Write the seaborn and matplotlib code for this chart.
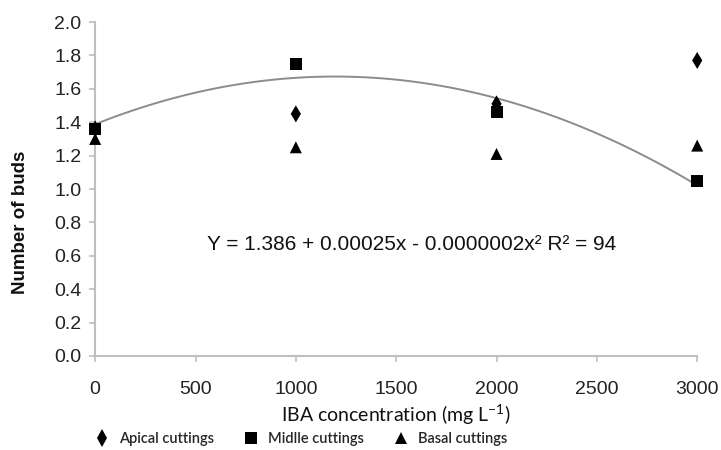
import numpy as np
import pandas as pd
import seaborn as sns
import matplotlib.pyplot as plt

concentration = [0, 1000, 2000, 3000]
apical = [1.36, 1.45, 1.51, 1.77]
midlle = [1.36, 1.75, 1.46, 1.05]
basal = [1.30, 1.25, 1.21, 1.26]
groups = ['Apical cuttings', 'Midlle cuttings', 'Basal cuttings']
equation = 'Y = 1.386 + 0.00025x - 0.0000002x² R² = 94'

df = pd.DataFrame({
    'conc': concentration * 3,
    'buds': apical + midlle + basal,
    'type': [g for g in groups for _ in concentration],
})

sns.set_theme(style='white')
plt.rcParams['font.family'] = ['Liberation Sans', 'DejaVu Sans']

fig = plt.figure(figsize=(7.21, 4.5), dpi=100)
ax = fig.add_axes([0.132, 0.209, 0.835, 0.742])

# trend line (2nd order fit on the midlle cuttings)
sns.regplot(data=df[df['type'] == 'Midlle cuttings'], x='conc', y='buds', order=2,
            ci=None, scatter=False, truncate=True, ax=ax,
            line_kws={'color': '#8c8c8c', 'linewidth': 1.4, 'zorder': 1})

markers = {'Apical cuttings': 'd', 'Midlle cuttings': 's', 'Basal cuttings': '^'}
sns.scatterplot(data=df, x='conc', y='buds', style='type', markers=markers,
                color='black', s=75, edgecolor='black', linewidth=0, ax=ax,
                zorder=3, clip_on=False)

ax.set_xlim(0, 3000)
ax.set_ylim(0, 2.0)
ax.set_xticks(np.arange(0, 3001, 500))
ax.set_yticks(np.arange(0, 2.01, 0.2))
ax.set_yticklabels([f'{v:.1f}' for v in np.arange(0, 2.01, 0.2)])
ax.tick_params(axis='both', labelsize=14, colors='#bfbfbf', labelcolor='#222222',
               length=4, width=1.2, direction='out', bottom=True, left=True)
ax.tick_params(axis='x', pad=14)
ax.tick_params(axis='y', pad=6)
for side in ['top', 'right']:
    ax.spines[side].set_visible(False)
for side in ['left', 'bottom']:
    ax.spines[side].set_color('#bfbfbf')
    ax.spines[side].set_linewidth(1.5)

ax.set_xlabel('IBA concentration (mg L$^{\\mathregular{-1}}$)', fontsize=14,
              family=['Lato', 'DejaVu Sans'], color='#111111', labelpad=3)
ax.set_ylabel('Number of buds', fontsize=13.5, fontweight='bold', color='#111111')
ax.yaxis.set_label_coords(-0.11, 0.40)

ax.text(1575, 0.67, equation, fontsize=15, ha='center', va='center', color='#111111')

handles, labels = ax.get_legend_handles_labels()
ax.legend_.remove()
fig.legend(handles, labels, loc='center', bbox_to_anchor=(0.415, 0.025), ncol=3,
           frameon=False, handletextpad=0.4, columnspacing=1.8, handlelength=1.5,
           prop={'family': ['Lato', 'DejaVu Sans'], 'size': 10.5, 'weight': 'semibold'})

fig.savefig('out.png', dpi=100)
